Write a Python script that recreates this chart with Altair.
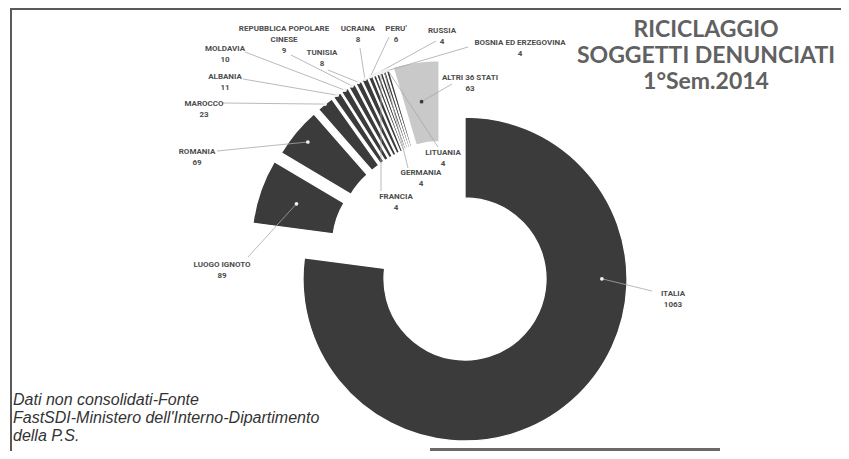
import altair as alt
import pandas as pd

# ---------------- data ----------------
names = ["ITALIA", "LUOGO IGNOTO", "ROMANIA", "MAROCCO", "ALBANIA", "MOLDAVIA",
         "REPUBBLICA POPOLARE\nCINESE", "TUNISIA", "UCRAINA", "PERU'", "RUSSIA",
         "BOSNIA ED ERZEGOVINA", "FRANCIA", "GERMANIA", "LITUANIA", "ALTRI 36 STATI"]
values = [1063, 89, 69, 23, 11, 10, 9, 8, 8, 6, 4, 4, 4, 4, 4, 63]
shade = ["dark"] * 15 + ["light"]

title_lines = ["RICICLAGGIO", "SOGGETTI DENUNCIATI", "1°Sem.2014"]
source_lines = ["Dati non consolidati-Fonte",
                "FastSDI-Ministero dell'Interno-Dipartimento",
                "della P.S."]

# ---------------- layout (page pixels) ----------------
M = 8  # page margin
CX, CY = 465 - M, 279 - M
R_OUT, R_IN = 162, 81
EXPLODE = 62
label_pos = [(673, 294), (222, 265), (197, 152), (204, 104), (225, 77), (225, 49),
             (284, 29), (322, 53), (358, 29), (396, 29), (442, 31), (520, 43),
             (396, 197), (421, 173), (443, 153), (470, 78)]
line_start = [(652, 291), (248, 257), (217, 151), (222, 103), (243, 79), (245, 52),
              (291, 55), (328, 70), (360, 48), (389, 37), (436, 41), (468, 47),
              (381, 191), (408, 168), (438, 147), (452, 84)]
dot_afrac = [0.324] + [0.5] * 15
dot_rfrac = [0.69, 0.53, 0.81] + [1.0] * 12 + [0.51]
exploded = [0] + [1] * 15

df = pd.DataFrame({
    "idx": list(range(len(names))),
    "name": names,
    "value": values,
    "shade": shade,
    "lab": [f"{n}\n{v}" for n, v in zip(names, values)],
    "tx": [p[0] - M for p in label_pos],
    "ty": [p[1] - M - 4.5 for p in label_pos],
    "lx": [p[0] - M for p in line_start],
    "ly": [p[1] - M for p in line_start],
    "afrac": dot_afrac,
    "rfrac": dot_rfrac,
    "ex": exploded,
})

base = alt.Chart(df).transform_window(
    cum="sum(value)", sort=[alt.SortField("idx")], frame=[None, 0]
).transform_joinaggregate(
    total="sum(value)"
).transform_calculate(
    a0="(datum.cum - datum.value) / datum.total * 2 * PI",
    a1="datum.cum / datum.total * 2 * PI",
).transform_calculate(
    mid="(datum.a0 + datum.a1) / 2"
).transform_joinaggregate(
    gmin="min(a0)", gmax="max(a1)", groupby=["ex"]
).transform_calculate(
    dir="(datum.mid + (datum.gmin + datum.gmax) / 2) / 2"
).transform_calculate(
    cx=f"{CX} + datum.ex * {EXPLODE} * sin(datum.dir)",
    cy=f"{CY} - datum.ex * {EXPLODE} * cos(datum.dir)",
).transform_calculate(
    da="datum.a0 + datum.afrac * (datum.a1 - datum.a0)",
    dr=f"{R_IN} + datum.rfrac * {R_OUT - R_IN}",
).transform_calculate(
    dx="datum.cx + datum.dr * sin(datum.da)",
    dy="datum.cy - datum.dr * cos(datum.da)",
    dotcol="datum.shade == 'light' ? '#3a3a3a' : '#f2f2f2'",
    fillcol="datum.shade == 'light' ? '#c9c9c9' : '#3b3b3b'",
)

X = lambda f: alt.X(f, type="quantitative", scale=None, axis=None)
Y = lambda f: alt.Y(f, type="quantitative", scale=None, axis=None)

arcs = base.mark_arc(radius=R_OUT, radius2=R_IN, stroke="white", strokeWidth=1.3).encode(
    x=X("cx"), y=Y("cy"),
    theta=alt.Theta("a0:Q", scale=None), theta2=alt.Theta2("a1"),
    fill=alt.Fill("fillcol:N", scale=None),
)

leaders = base.mark_rule(color="#a8a8a8", strokeWidth=0.8).encode(
    x=X("lx"), y=Y("ly"), x2="dx:Q", y2="dy:Q"
)

dots = base.mark_circle(size=14, opacity=1).encode(
    x=X("dx"), y=Y("dy"), color=alt.Color("dotcol:N", scale=None)
)

labels = base.mark_text(
    font="Roboto", fontSize=8, fontWeight="bold", color="#4d4d4d",
    align="center", baseline="top", lineBreak="\n", lineHeight=11,
).encode(x=X("tx"), y=Y("ty"), text="lab:N")

one = alt.Chart(pd.DataFrame({"k": [0]}))
title_text = one.mark_text(
    text="\n".join(title_lines), lineBreak="\n", lineHeight=26,
    font="Lato", fontSize=23, fontWeight="bold", color="#616161",
    align="center", baseline="top",
).encode(x=alt.value(706 - M), y=alt.value(19 - M))

source_text = one.mark_text(
    text="\n".join(source_lines), lineBreak="\n", lineHeight=18,
    font="Liberation Sans", fontSize=16, fontStyle="italic", color="#333333",
    align="left", baseline="top",
).encode(x=alt.value(13 - M), y=alt.value(392 - M))

frame_top = one.mark_rule(color="#5a5a5a", strokeWidth=2).encode(
    x=alt.value(2), x2=alt.value(833), y=alt.value(1), y2=alt.value(1))
frame_left = one.mark_rule(color="#5a5a5a", strokeWidth=2).encode(
    x=alt.value(3), x2=alt.value(3), y=alt.value(0), y2=alt.value(443))
bottom_bar = one.mark_rule(color="#6a6a6a", strokeWidth=3).encode(
    x=alt.value(430 - M), x2=alt.value(720 - M), y=alt.value(441.5), y2=alt.value(441.5))

chart = alt.layer(
    arcs, leaders, dots, labels, title_text, source_text,
    frame_top, frame_left, bottom_bar
).properties(
    width=833, height=443, padding=0, autosize=alt.AutoSizeParams(type="none"),
    background="white",
).configure_view(stroke=None)

chart.save("out.html", embed_options={"renderer": "svg", "actions": False})
